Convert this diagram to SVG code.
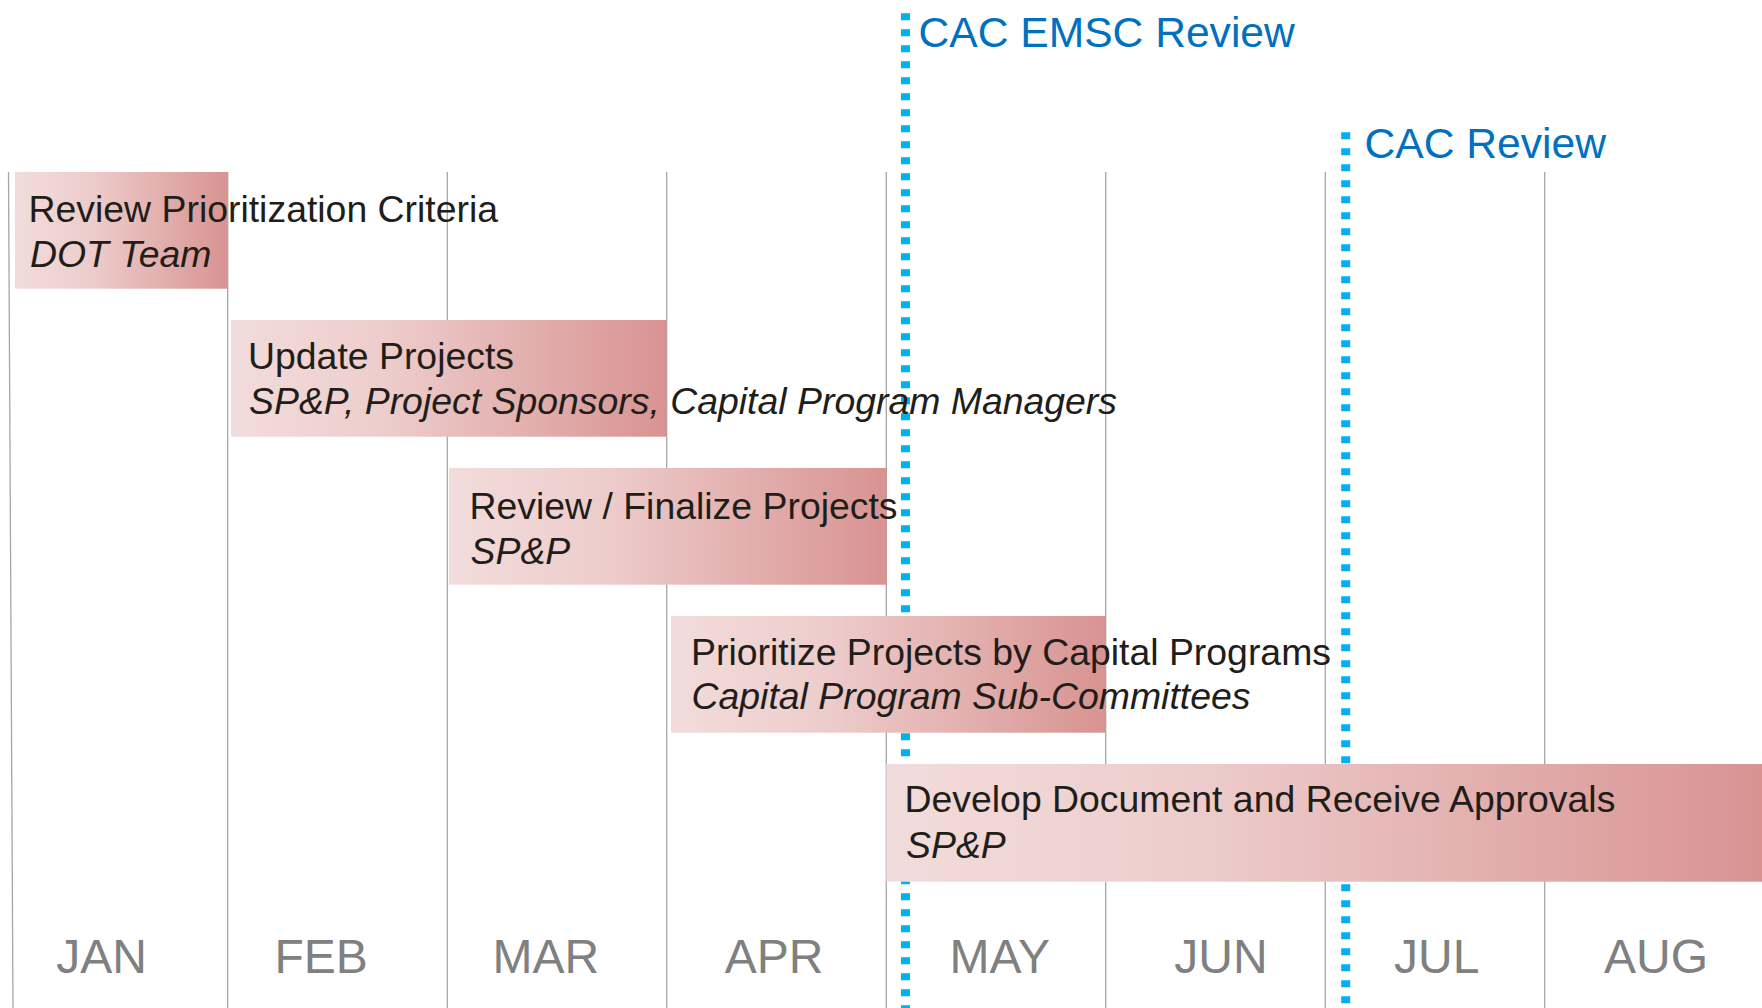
<svg xmlns="http://www.w3.org/2000/svg" width="1762" height="1008" viewBox="0 0 1762 1008">
  <defs>
    <linearGradient id="bar" x1="0" y1="0" x2="1" y2="0">
      <stop offset="0" stop-color="#F2DCDB"/>
      <stop offset="0.35" stop-color="#EDCDCC"/>
      <stop offset="1" stop-color="#D89391"/>
    </linearGradient>
    <style>
      .grid { stroke: #A6A6A6; stroke-width: 1.3; fill: none; }
      .ms { stroke: #00B0F0; stroke-width: 9; stroke-dasharray: 7 9; fill: none; }
      .bar { fill: url(#bar); }
      .t { font-family: "Liberation Sans", Arial, sans-serif; font-size: 37.4px; fill: #211D19; }
      .i { font-style: italic; }
      .ml { font-family: "Liberation Sans", Arial, sans-serif; font-size: 42.6px; fill: #0070C0; }
      .mon { font-family: "Liberation Sans", Arial, sans-serif; font-size: 48px; fill: #808080; text-anchor: middle; }
    </style>
  </defs>
  <rect width="1762" height="1008" fill="#FFFFFF"/>

  <g id="grid">
    <line class="grid" x1="8.5" y1="172" x2="13" y2="1008"/>
    <line class="grid" x1="227.7" y1="172" x2="227.7" y2="1008"/>
    <line class="grid" x1="447.3" y1="172" x2="447.3" y2="1008"/>
    <line class="grid" x1="666.7" y1="172" x2="666.7" y2="1008"/>
    <line class="grid" x1="886.3" y1="172" x2="886.3" y2="1008"/>
    <line class="grid" x1="1105.7" y1="172" x2="1105.7" y2="1008"/>
    <line class="grid" x1="1325.3" y1="172" x2="1325.3" y2="1008"/>
    <line class="grid" x1="1544.7" y1="172" x2="1544.7" y2="1008"/>
  </g>

  <g id="connectors">
    <line class="ms" x1="905.5" y1="13.3" x2="905.5" y2="1008"/>
    <line class="ms" x1="1345.7" y1="132.3" x2="1345.7" y2="1008"/>
  </g>

  <g id="milestone-cac-emsc">
    <text class="ml" x="918.5" y="46.7">CAC EMSC Review</text>
  </g>
  <g id="milestone-cac">
    <text class="ml" x="1364.5" y="157.7">CAC Review</text>
  </g>

  <g id="task-review-criteria">
    <rect class="bar" x="15" y="172" width="212.7" height="116.7"/>
  </g>
  <g id="task-update-projects">
    <rect class="bar" x="231" y="320" width="435.5" height="116.7"/>
  </g>
  <g id="task-finalize-projects">
    <rect class="bar" x="449" y="468" width="437.7" height="116.7"/>
  </g>
  <g id="task-prioritize">
    <rect class="bar" x="671" y="616" width="434.7" height="116.7"/>
  </g>
  <g id="task-develop">
    <rect class="bar" x="886.3" y="764" width="875.7" height="117.7"/>
  </g>

  <g id="task-labels">
    <text class="t" x="28.5" y="221.7">Review Prioritization Criteria</text>
    <text class="t i" x="30" y="266.7">DOT Team</text>
    <text class="t" x="248" y="369.3">Update Projects</text>
    <text class="t i" x="249" y="414.3">SP&amp;P, Project Sponsors, Capital Program Managers</text>
    <text class="t" x="469.5" y="519">Review / Finalize Projects</text>
    <text class="t i" x="470.5" y="563.5">SP&amp;P</text>
    <text class="t" x="691" y="664.5">Prioritize Projects by Capital Programs</text>
    <text class="t i" x="691.5" y="709.3">Capital Program Sub-Committees</text>
    <text class="t" x="904.5" y="812.3">Develop Document and Receive Approvals</text>
    <text class="t i" x="906" y="857.7">SP&amp;P</text>
  </g>

  <g id="months">
    <text class="mon" x="101.6" y="972.7">JAN</text>
    <text class="mon" x="321.2" y="972.7">FEB</text>
    <text class="mon" x="545.9" y="972.7">MAR</text>
    <text class="mon" x="774" y="972.7">APR</text>
    <text class="mon" x="999.8" y="972.7">MAY</text>
    <text class="mon" x="1221" y="972.7">JUN</text>
    <text class="mon" x="1436.7" y="972.7">JUL</text>
    <text class="mon" x="1656" y="972.7">AUG</text>
  </g>
</svg>
